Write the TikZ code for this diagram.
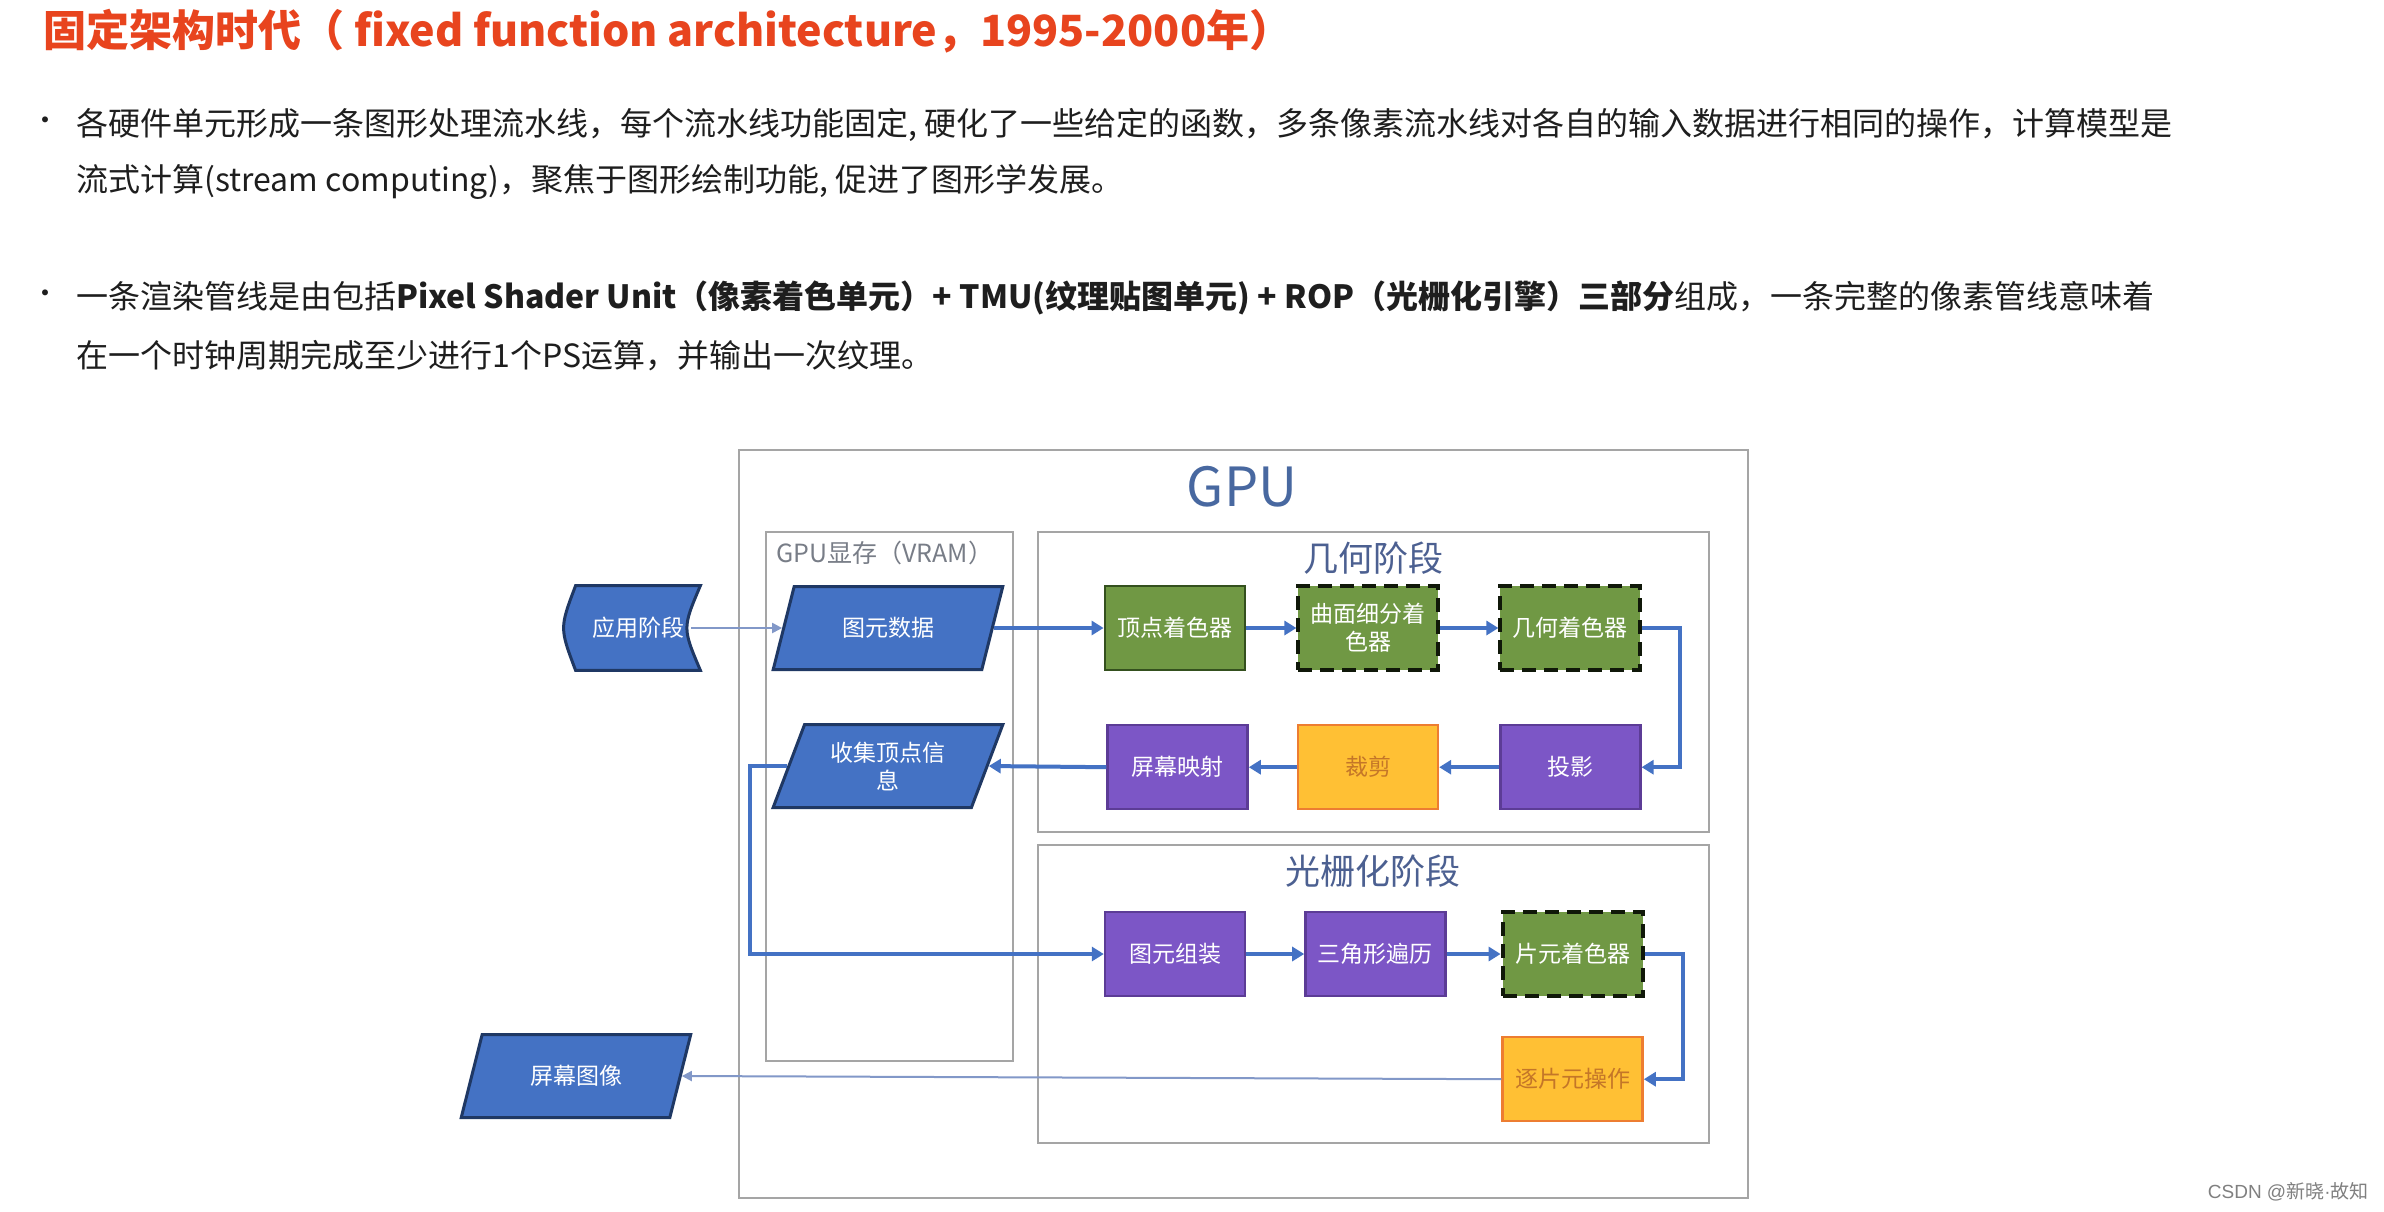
\documentclass[tikz,border=0pt]{standalone}
\usepackage{fontspec}
\setmainfont{Noto Sans CJK SC}
\newfontfamily\latinfont{Liberation Sans}
\usepackage{xcolor}
\usepackage{tikz}
\usetikzlibrary{arrows.meta, positioning, calc, shapes.geometric, backgrounds}
\definecolor{titlered}{RGB}{232,68,30}
\definecolor{textdark}{RGB}{30,30,30}
\definecolor{framegray}{RGB}{165,165,165}
\definecolor{gpublue}{RGB}{72,104,160}
\definecolor{headblue}{RGB}{76,96,145}
\definecolor{labelgray}{RGB}{120,125,135}
\definecolor{flowblue}{RGB}{68,114,196}
\definecolor{thinblue}{RGB}{130,152,200}
\definecolor{datablue}{RGB}{68,114,196}
\definecolor{datadark}{RGB}{31,56,100}
\definecolor{shadergreen}{RGB}{112,152,68}
\definecolor{shaderdark}{RGB}{52,80,30}
\definecolor{stagepurple}{RGB}{124,86,198}
\definecolor{purpledark}{RGB}{92,60,150}
\definecolor{opgold}{RGB}{255,192,52}
\definecolor{oporange}{RGB}{237,125,49}
\definecolor{optext}{RGB}{196,118,40}

\begin{document}
\begin{tikzpicture}[
    x=0.5pt, y=-0.5pt,
    base/.style={rectangle, align=center, font=\fontsize{11.5pt}{14pt}\selectfont, text=white, minimum width=70pt, minimum height=42pt, inner sep=2pt},
    shader/.style={base, fill=shadergreen, draw=shaderdark, line width=1.4pt},
    optshader/.style={shader, dashed, dash pattern=on 7pt off 4pt, line width=2pt, draw=black!70!shaderdark},
    fixedstage/.style={base, fill=stagepurple, draw=purpledark, line width=1.2pt},
    rasterop/.style={base, fill=opgold, draw=oporange, line width=1.2pt, text=optext},
    memdata/.style={trapezium, trapezium left angle=67, trapezium right angle=113, trapezium stretches=true, align=center, font=\fontsize{11.5pt}{14pt}\selectfont, text=white, fill=datablue, draw=datadark, line width=1.5pt, minimum width=115pt, minimum height=41.5pt, inner sep=1pt},
    appbox/.style={rectangle, align=center, font=\fontsize{11.5pt}{14pt}\selectfont, text=white, minimum width=62pt, minimum height=42pt},
    appshape/.style={fill=datablue, draw=datadark, line width=1.5pt},
    frame/.style={draw=framegray, line width=1pt},
    stagetitle/.style={font=\fontsize{17.5pt}{20pt}\selectfont, text=headblue, inner sep=0pt},
    bodytext/.style={anchor=west, inner sep=0pt, text=textdark, font=\fontsize{16pt}{19pt}\selectfont},
    bullet/.style={inner sep=0pt, text=textdark, font=\fontsize{14pt}{16pt}\selectfont},
    line/.style={draw=flowblue, line width=2pt, -{Triangle[length=6pt, width=7pt]}},
    thinline/.style={draw=thinblue, line width=1pt, -{Triangle[length=5pt, width=5pt]}}
]
\useasboundingbox (0,0) rectangle (2384,1211);
\begin{scope}[on background layer]
\fill[white] (0,0) rectangle (2384,1211);
\end{scope}

\node[anchor=west, inner sep=0pt, text=titlered, font=\bfseries\fontsize{21.5pt}{25pt}\selectfont] (title) at (43,31) {固定架构时代（ fixed function architecture，1995-2000年）};

\node[bullet] (dot1) at (46,124) {•};
\node[bodytext] (p1a) at (76,125) {各硬件单元形成一条图形处理流水线，每个流水线功能固定, 硬化了一些给定的函数，多条像素流水线对各自的输入数据进行相同的操作，计算模型是};
\node[bodytext] (p1b) at (76,182) {流式计算(stream computing)，聚焦于图形绘制功能, 促进了图形学发展。};
\node[bullet] (dot2) at (46,297) {•};
\node[bodytext] (p2a) at (76,298) {一条渲染管线是由包括\textbf{Pixel Shader Unit（像素着色单元）+ TMU(纹理贴图单元) + ROP（光栅化引擎）三部分}组成，一条完整的像素管线意味着};
\node[bodytext] (p2b) at (76,356) {在一个时钟周期完成至少进行1个PS运算，并输出一次纹理。};

\draw[frame] (739,450) rectangle (1748,1198);
\draw[frame] (766,532) rectangle (1013,1061);
\draw[frame] (1038,532) rectangle (1709,832);
\draw[frame] (1038,845) rectangle (1709,1143);

\node[text=gpublue, font=\fontsize{27pt}{32pt}\selectfont, inner sep=0pt] (gpulabel) at (1242,487) {GPU};
\node[anchor=west, inner sep=0pt, text=labelgray, font=\fontsize{12.5pt}{15pt}\selectfont] (vramlabel) at (776,553) {GPU显存（VRAM）};
\node[stagetitle] (geolabel) at (1373,558) {几何阶段};
\node[stagetitle] (rastlabel) at (1373,871) {光栅化阶段};

\node[appbox] (app) at (638,628) {应用阶段};
\begin{scope}[on background layer]
\draw[appshape] (app.north west) .. controls ([xshift=-8pt]app.west) .. (app.south west) -- (app.south east) .. controls ([xshift=-9pt]app.east) .. (app.north east) -- cycle;
\end{scope}

\node[memdata] (data) at (888,628) {图元数据};
\node[memdata, below=26pt of data] (collect) {收集顶点信\\息};
\node[memdata] (screen) at (576,1076) {屏幕图像};

\node[shader] (vs) at (1175,628) {顶点着色器};
\node[optshader, right=25pt of vs] (ts) {曲面细分着\\色器};
\node[optshader, right=29pt of ts] (gs) {几何着色器};
\node[fixedstage, below=26pt of gs] (proj) {投影};
\node[rasterop, left=30pt of proj] (clip) {裁剪};
\node[fixedstage, left=24pt of clip] (smap) {屏幕映射};

\node[fixedstage] (pa) at (1175,954) {图元组装};
\node[fixedstage, right=29pt of pa] (tt) {三角形遍历};
\node[optshader, right=27pt of tt] (fs) {片元着色器};
\node[rasterop, below=19pt of fs] (rop) {逐片元操作};

\draw[thinline] ([xshift=-4.5pt]app.east) -- (data.left side);
\draw[line] (data.right side) -- (vs.west);
\draw[line] (vs) -- (ts);
\draw[line] (ts) -- (gs);
\draw[line] (gs.east) -- ++(38,0) |- (proj.east);
\draw[line] (proj) -- (clip);
\draw[line] (clip) -- (smap);
\draw[line] (smap.west) -- (collect.right side);
\draw[line] (collect.left side) -- ++(-37,0) |- (pa.west);
\draw[line] (pa) -- (tt);
\draw[line] (tt) -- (fs);
\draw[line] (fs.east) -- ++(38,0) |- (rop.east);
\draw[thinline] (rop.west) -- (screen.right side);

\node[anchor=east, inner sep=0pt, text=gray, font=\fontsize{9.5pt}{11pt}\selectfont] (mark) at (2369,1192) {{\latinfont CSDN @}新晓{\latinfont ·}故知};
\end{tikzpicture}
\end{document}
